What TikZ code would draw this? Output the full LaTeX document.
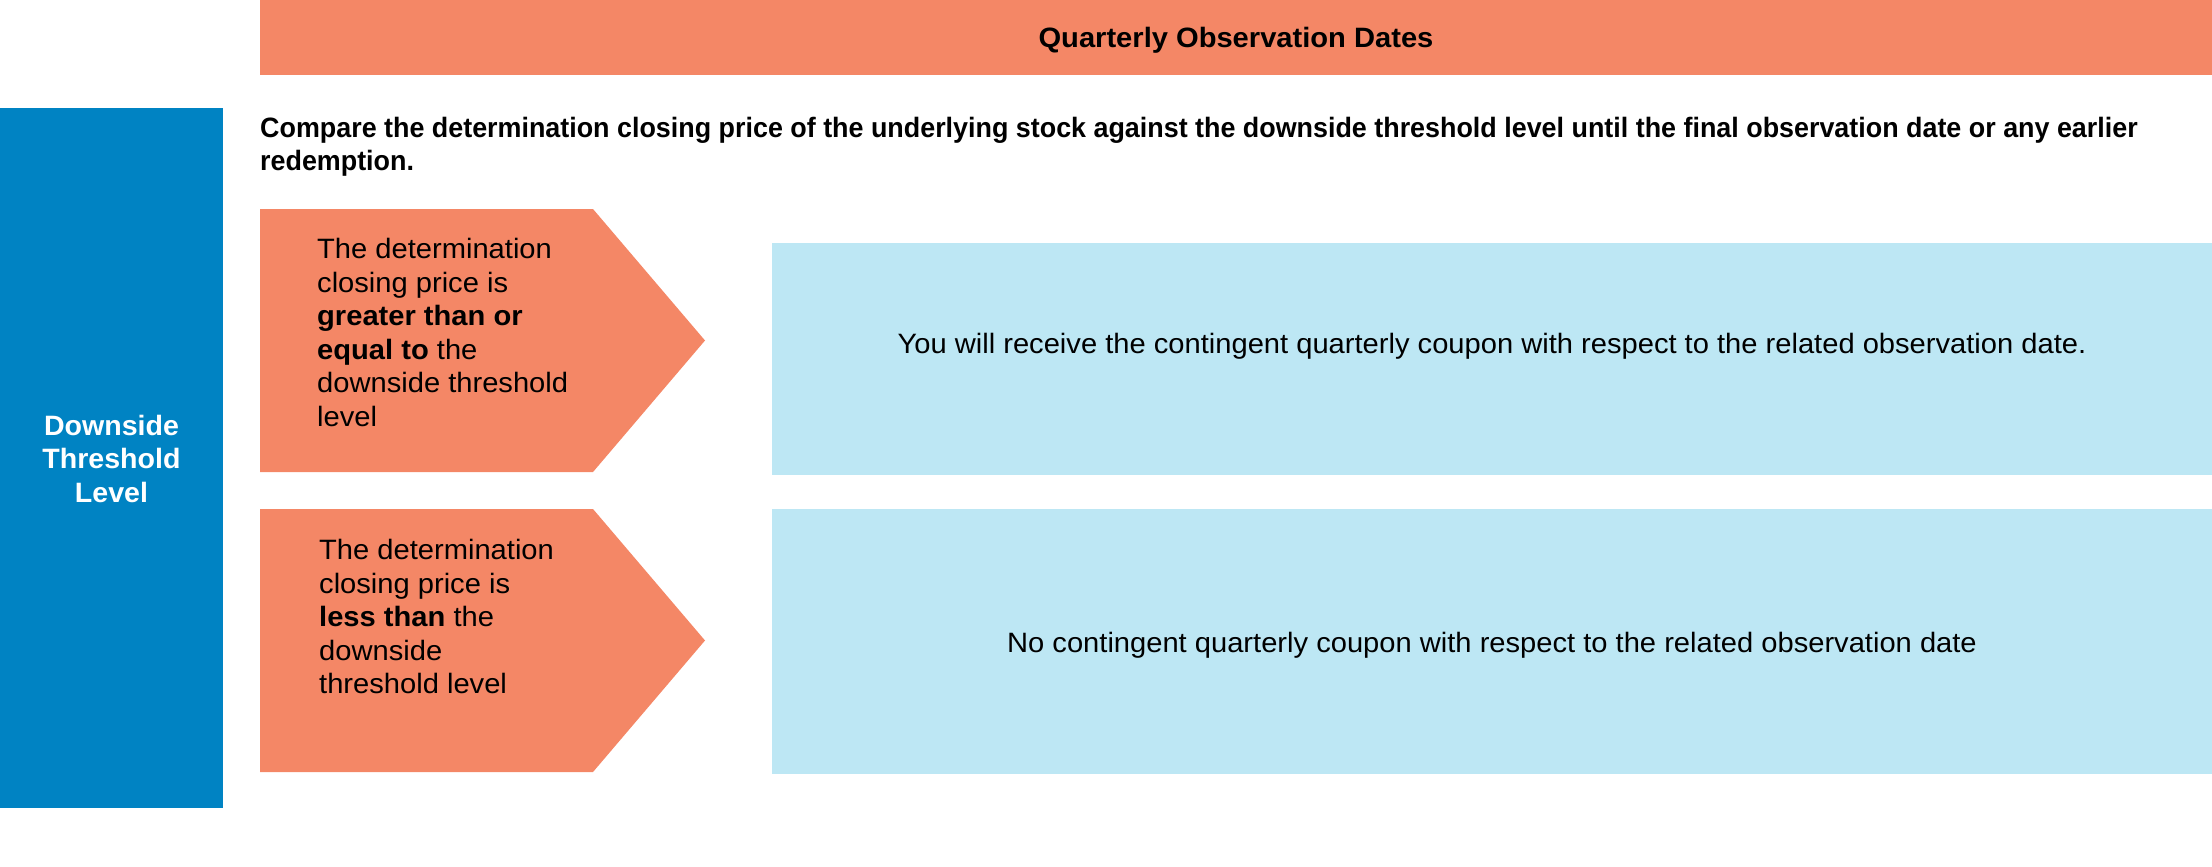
\documentclass[tikz,border=0pt]{standalone}
\usepackage{fontspec}
\setmainfont{Liberation Sans}
\newfontfamily\widefont[FakeStretch=1.04]{Liberation Sans}
\newfontfamily\barfont[FakeStretch=1.02]{Liberation Sans}
\newfontfamily\narrowfont[FakeStretch=0.96]{Liberation Sans}
\definecolor{salmon}{HTML}{F48766}
\definecolor{bluebar}{HTML}{0083C3}
\definecolor{lightblue}{HTML}{BDE7F4}
\begin{document}
\begin{tikzpicture}[x=1pt,y=-1pt,
  txt/.style={font=\widefont\fontsize{28}{33.5}\selectfont, inner sep=0pt, align=left, text=black},
  btxt/.style={font=\widefont\fontsize{28}{33.5}\selectfont\bfseries, inner sep=0pt}]
\useasboundingbox (0,0) rectangle (2212,867);
% top banner
\fill[salmon] (260,0) rectangle (2212,75);
\node[btxt, anchor=base] (title) at (1236,48) {Quarterly Observation Dates};
% left bar
\fill[bluebar] (0,108) rectangle (223,808);
\node[btxt, font=\barfont\fontsize{28}{33.5}\selectfont\bfseries, text=white, align=center] (dtl) at (111.5,458.5) {Downside\\Threshold\\Level};
% intro text
\node[btxt, font=\narrowfont\fontsize{28}{33.5}\selectfont\bfseries, align=left, anchor=north west] (compare) at (260,117)
  {Compare the determination closing price of the underlying stock against the downside threshold level until the final observation date or any earlier\\redemption.};
% arrow 1
\fill[salmon] (260,209) -- (593,209) -- (705,340.5) -- (593,472) -- (260,472) -- cycle;
\node[txt, anchor=west] (cond1) at (317,332.5)
  {The determination\\closing price is\\\textbf{greater than or}\\\textbf{equal to} the\\downside threshold\\level};
% arrow 2
\fill[salmon] (260,509) -- (593,509) -- (705,640.5) -- (593,772) -- (260,772) -- cycle;
\node[txt, anchor=west] (cond2) at (319,616.5)
  {The determination\\closing price is\\\textbf{less than} the\\downside\\threshold level};
% result boxes
\fill[lightblue] (772,243) rectangle (2212,475);
\node[txt, anchor=base] (res1) at (1492,353)
  {You will receive the contingent quarterly coupon with respect to the related observation date.};
\fill[lightblue] (772,509) rectangle (2212,774);
\node[txt, anchor=base] (res2) at (1492,652)
  {No contingent quarterly coupon with respect to the related observation date};
\end{tikzpicture}
\end{document}
